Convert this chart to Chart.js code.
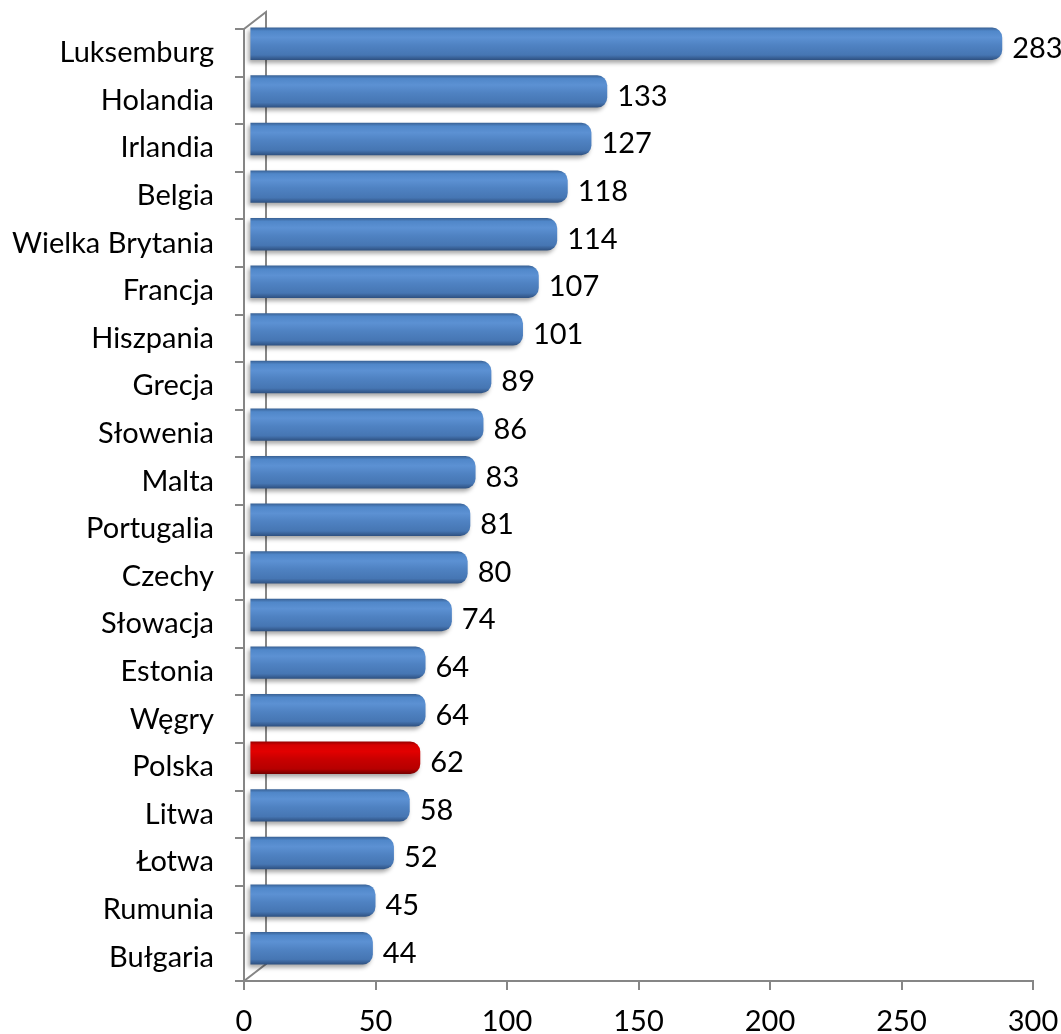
<!DOCTYPE html>
<html>
<head>
<meta charset="utf-8">
<script src="https://cdn.jsdelivr.net/npm/chart.js@4"></script>
<style>
  html, body { margin: 0; padding: 0; background: #fff; }
  #wrap { width: 1061px; height: 1034px; }
</style>
</head>
<body>
<div id="wrap"><canvas id="myChart"></canvas></div>
<script>
const categories = ['Luksemburg', 'Holandia', 'Irlandia', 'Belgia', 'Wielka Brytania', 'Francja', 'Hiszpania', 'Grecja', 'Słowenia', 'Malta', 'Portugalia', 'Czechy', 'Słowacja', 'Estonia', 'Węgry', 'Polska', 'Litwa', 'Łotwa', 'Rumunia', 'Bułgaria']
const values = [283, 133, 127, 118, 114, 107, 101, 89, 86, 83, 81, 80, 74, 64, 64, 62, 58, 52, 45, 44]
const highlight = 'Polska'
const xMin = 0
const xMax = 300
const xStep = 50

const FONT = 'Lato'
const AXIS = '#868686'

// gradient across the bar thickness, fake 3D tube
function barFill(c) {
    const chart = c.chart
    const yb = chart.scales.yb
    const red = categories[c.dataIndex] === highlight
    const flat = red ? '#c80000' : '#4f81bd'
    if (!yb || c.dataIndex === undefined) return flat
    const y = yb.getPixelForValue(c.dataIndex)
    if (!isFinite(y)) return flat
    const g = chart.ctx.createLinearGradient(0, y - 16, 0, y + 16)
    if (red) {
        g.addColorStop(0, '#9a0000')
        g.addColorStop(0.1, '#d60000')
        g.addColorStop(0.3, '#e20000')
        g.addColorStop(0.55, '#c80000')
        g.addColorStop(0.85, '#b60000')
        g.addColorStop(1, '#760000')
    } else {
        g.addColorStop(0, '#3a6397')
        g.addColorStop(0.1, '#5087c9')
        g.addColorStop(0.3, '#5c91d3')
        g.addColorStop(0.55, '#4f82c2')
        g.addColorStop(0.85, '#4676b3')
        g.addColorStop(1, '#2f5282')
    }
    return g
}

const depth = {
    id: 'depth',
    afterLayout(chart) {
        // bars sit a bit deeper than the front axes
        const a = chart.chartArea
        const xb = chart.scales.xb
        const yb = chart.scales.yb
        xb.left = a.left + 13
        xb.right = a.right + 14
        xb.width = xb.right - xb.left
        yb.top = a.top - 9
        yb.bottom = a.bottom - 9
        yb.height = yb.bottom - yb.top
        xb.configure()
        yb.configure()
    },
    beforeDatasetsDraw(chart) {
        const ctx = chart.ctx
        const a = chart.chartArea
        ctx.save()
        ctx.strokeStyle = AXIS
        ctx.lineWidth = 2
        ctx.beginPath()
        ctx.moveTo(a.left, a.top)
        ctx.lineTo(a.left + 22, a.top - 17)
        ctx.lineTo(a.left + 22, a.bottom - 17)
        ctx.lineTo(a.left, a.bottom)
        ctx.stroke()
        ctx.restore()
        ctx.save()
        ctx.shadowColor = 'rgba(0,0,0,0.35)'
        ctx.shadowBlur = 4
        ctx.shadowOffsetX = -2
        ctx.shadowOffsetY = 3
    },
    afterDatasetsDraw(chart) {
        const ctx = chart.ctx
        ctx.restore()
        ctx.save()
        ctx.font = `29px ${FONT}`
        ctx.fillStyle = '#000'
        ctx.textBaseline = 'middle'
        ctx.textAlign = 'left'
        chart.getDatasetMeta(0).data.forEach((bar, i) => {
            ctx.fillText(String(values[i]), bar.x + 10, bar.y + 5)
        })
        ctx.restore()
    }
}

const ctx = document.getElementById('myChart').getContext('2d')
const myChart = new Chart(ctx, {
    type: 'bar',
    data: {
        labels: categories,
        datasets: [
            {
                data: values,
                xAxisID: 'xb',
                yAxisID: 'yb',
                backgroundColor: barFill,
                borderWidth: 0,
                borderRadius: 10,
                borderSkipped: 'start',
                base: -2.5,
                barPercentage: 0.68,
                categoryPercentage: 1,
                clip: false
            }
        ]
    },
    options: {
        indexAxis: 'y',
        responsive: true,
        maintainAspectRatio: false,
        animation: false,
        layout: { padding: { top: 29, right: 28, left: 0, bottom: 0 } },
        plugins: {
            legend: { display: false },
            tooltip: { enabled: false }
        },
        scales: {
            x: {
                type: 'linear',
                position: 'bottom',
                min: xMin,
                max: xMax,
                afterFit: s => {
                    s.height = 53
                    s.paddingLeft = 0
                    s.paddingRight = 0
                },
                ticks: {
                    stepSize: xStep,
                    color: '#000',
                    padding: 14,
                    maxRotation: 0,
                    font: { family: FONT, size: 29 }
                },
                grid: { drawOnChartArea: false, drawTicks: true, tickLength: 9, color: AXIS, lineWidth: 2 },
                border: { display: true, color: AXIS, width: 2 }
            },
            y: {
                type: 'category',
                position: 'left',
                labels: categories,
                offset: true,
                afterFit: s => {
                    s.width = 244
                    s.paddingTop = 0
                    s.paddingBottom = 0
                },
                ticks: {
                    color: '#000',
                    padding: 21,
                    autoSkip: false,
                    font: { family: FONT, size: 29 }
                },
                grid: { offset: true, drawOnChartArea: false, drawTicks: true, tickLength: 9, color: AXIS, lineWidth: 2 },
                border: { display: true, color: AXIS, width: 2 }
            },
            xb: { type: 'linear', position: 'bottom', display: false, min: xMin, max: xMax },
            yb: { type: 'category', position: 'left', display: false, offset: true }
        }
    },
    plugins: [depth]
})
</script>
</body>
</html>
